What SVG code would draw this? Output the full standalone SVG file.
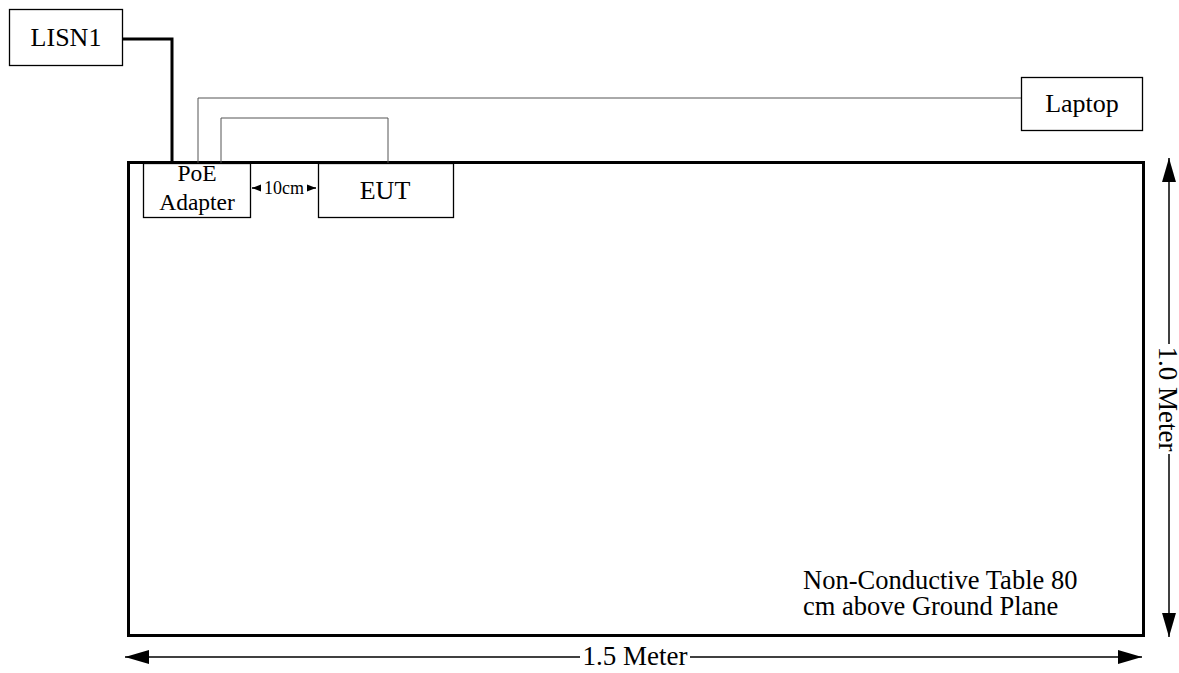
<svg xmlns="http://www.w3.org/2000/svg" width="1179" height="673" viewBox="0 0 1179 673">
<style>
text{font-family:"Liberation Serif","Times New Roman",serif;fill:#000}
.box{fill:#fff;stroke:#000;stroke-width:1.3}
.thin{fill:none;stroke:#555;stroke-width:1}
.dim{fill:none;stroke:#000;stroke-width:1.5}
</style>
<defs>
<marker id="ah" viewBox="0 0 10 10" refX="10" refY="5" markerWidth="24" markerHeight="24" markerUnits="userSpaceOnUse" orient="auto-start-reverse"><path d="M0,2.1 L10,5 L0,7.9 z" fill="#000"/></marker>
<marker id="as" viewBox="0 0 10 10" refX="10" refY="5" markerWidth="9" markerHeight="9" markerUnits="userSpaceOnUse" orient="auto-start-reverse"><path d="M0,1 L10,5 L0,9 z" fill="#000"/></marker>
</defs>
<g id="table">
<rect x="128.5" y="162.5" width="1015" height="473" fill="#fff" stroke="#000" stroke-width="3"/>
<text x="803" y="589" font-size="26.5">Non-Conductive Table 80</text>
<text x="803" y="615" font-size="26.5">cm above Ground Plane</text>
</g>
<g id="connectors">
<polyline points="123,39 172,39 172,163" fill="none" stroke="#000" stroke-width="3"/>
<polyline class="thin" points="1021,98 198,98 198,163"/>
<polyline class="thin" points="221,163 221,118 388,118 388,163"/>
<line class="dim" x1="252" y1="188" x2="316" y2="188" marker-start="url(#as)" marker-end="url(#as)"/>
<line class="dim" x1="125" y1="657" x2="1142" y2="657" marker-start="url(#ah)" marker-end="url(#ah)"/>
<line class="dim" x1="1169" y1="158" x2="1169" y2="637" marker-start="url(#ah)" marker-end="url(#ah)"/>
</g>
<g id="lisn1">
<rect class="box" x="9.5" y="9.5" width="113" height="56"/>
<text x="66" y="46" font-size="26" text-anchor="middle">LISN1</text>
</g>
<g id="laptop">
<rect class="box" x="1021.5" y="77.5" width="121" height="53"/>
<text x="1082" y="112" font-size="26" text-anchor="middle">Laptop</text>
</g>
<g id="poe">
<rect class="box" x="143.5" y="163.5" width="107" height="54"/>
<text x="197" y="181" font-size="23.5" text-anchor="middle">PoE</text>
<text x="197" y="210" font-size="23.5" text-anchor="middle">Adapter</text>
</g>
<g id="eut">
<rect class="box" x="318.5" y="163.5" width="135" height="54"/>
<text x="385" y="199" font-size="26" text-anchor="middle">EUT</text>
</g>
<g id="dim10">
<rect x="261" y="180" width="46" height="16" fill="#fff"/>
<text x="284" y="194" font-size="18" text-anchor="middle">10cm</text>
</g>
<g id="dim15">
<rect x="580" y="645" width="110" height="24" fill="#fff"/>
<text x="635" y="665" font-size="27" text-anchor="middle">1.5 Meter</text>
</g>
<g id="dim10m">
<rect x="1157" y="344" width="22" height="110" fill="#fff"/>
<text x="1168" y="399" font-size="27" text-anchor="middle" transform="rotate(90 1168 399)" dy="9">1.0 Meter</text>
</g>
</svg>
